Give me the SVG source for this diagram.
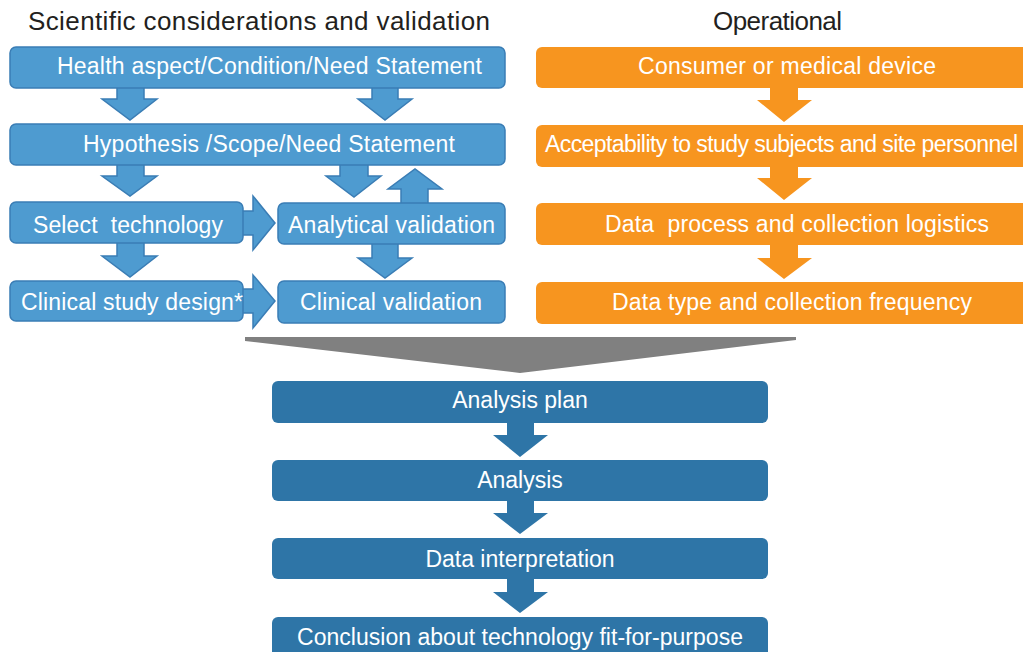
<svg xmlns="http://www.w3.org/2000/svg" width="1023" height="652" viewBox="0 0 1023 652">
<style>
text{font-family:"Liberation Sans",Arial,sans-serif;}
.hdr{font-size:26px;fill:#231f20;}
.t{font-size:23px;fill:#ffffff;}
.lb{fill:#4e9bd0;stroke:#3a7db5;stroke-width:1.5;}
.or{fill:#f7951f;}
.db{fill:#2e75a7;}
.gr{fill:#808080;}
</style>
<rect width="1023" height="652" fill="#ffffff"/>
<text class="hdr" x="28" y="30" textLength="462">Scientific considerations and validation</text>
<text class="hdr" x="713" y="30" textLength="129">Operational</text>

<g id="connectors">
  <polygon class="lb" points="117,86 144,86 144,99 157,99 130,120 102,99 117,99"/>
  <polygon class="lb" points="372,86 398,86 398,99 412,99 385,120 358,99 372,99"/>
  <polygon class="lb" points="117,163 144,163 144,176 157,176 130,196 102,176 117,176"/>
  <polygon class="lb" points="340,163 368,163 368,176 381,176 354,197 326,176 340,176"/>
  <polygon class="lb" points="401,205 428,205 428,189 442,189 415,169 388,189 401,189"/>
  <polygon class="lb" points="240,211 253,211 253,196 275,223 253,250 253,235 240,235"/>
  <polygon class="lb" points="117,241 144,241 144,256 157,256 130,277 102,256 117,256"/>
  <polygon class="lb" points="372,242 398,242 398,258 412,258 385,278 358,258 372,258"/>
  <polygon class="lb" points="240,289 253,289 253,275 275,301 253,328 253,313 240,313"/>
  <polygon class="or" points="770,87 798,87 798,100 812,100 784,122 757,100 770,100"/>
  <polygon class="or" points="770,166 798,166 798,178 812,178 784,200 757,178 770,178"/>
  <polygon class="or" points="770,244 798,244 798,258 812,258 784,279 757,258 770,258"/>
  <polygon class="gr" points="245,337 796,337 796,340 520,373 245,341"/>
  <polygon class="db" points="507,422 534,422 534,435 548,435 520,457 493,435 507,435"/>
  <polygon class="db" points="507,500 534,500 534,513 548,513 520,534 493,513 507,513"/>
  <polygon class="db" points="507,578 534,578 534,592 548,592 520,613 493,592 507,592"/>
</g>

<g id="n-health">
  <rect class="lb" x="10" y="47" width="495" height="41" rx="6"/>
  <text class="t" x="57" y="74" textLength="425">Health aspect/Condition/Need Statement</text>
</g>
<g id="n-hypothesis">
  <rect class="lb" x="10" y="124" width="495" height="41" rx="6"/>
  <text class="t" x="83" y="152" textLength="372">Hypothesis /Scope/Need Statement</text>
</g>
<g id="n-select">
  <rect class="lb" x="10" y="202" width="233" height="41" rx="6"/>
  <text class="t" x="33" y="233" xml:space="preserve" textLength="190">Select  technology</text>
</g>
<g id="n-analytical">
  <rect class="lb" x="278" y="203" width="227" height="41" rx="6"/>
  <text class="t" x="288" y="233" textLength="207">Analytical validation</text>
</g>
<g id="n-clinical-design">
  <rect class="lb" x="10" y="281" width="233" height="40" rx="6"/>
  <text class="t" x="21" y="310" textLength="222">Clinical study design*</text>
</g>
<g id="n-clinical-validation">
  <rect class="lb" x="278" y="281" width="227" height="42" rx="6"/>
  <text class="t" x="300" y="310" textLength="182">Clinical validation</text>
</g>

<g id="n-consumer">
  <rect class="or" x="536" y="47" width="500" height="41" rx="6"/>
  <text class="t" x="638" y="74" textLength="298">Consumer or medical device</text>
</g>
<g id="n-acceptability">
  <rect class="or" x="536" y="125" width="500" height="42" rx="6"/>
  <text class="t" x="545" y="152" textLength="473">Acceptability to study subjects and site personnel</text>
</g>
<g id="n-process">
  <rect class="or" x="536" y="203" width="500" height="42" rx="6"/>
  <text class="t" x="605" y="232" xml:space="preserve" textLength="384">Data  process and collection logistics</text>
</g>
<g id="n-datatype">
  <rect class="or" x="536" y="282" width="500" height="42" rx="6"/>
  <text class="t" x="612" y="310" textLength="360">Data type and collection frequency</text>
</g>

<g id="n-analysis-plan">
  <rect class="db" x="272" y="381" width="496" height="42" rx="6"/>
  <text class="t" x="520" y="408" text-anchor="middle">Analysis plan</text>
</g>
<g id="n-analysis">
  <rect class="db" x="272" y="460" width="496" height="41" rx="6"/>
  <text class="t" x="520" y="488" text-anchor="middle">Analysis</text>
</g>
<g id="n-interpretation">
  <rect class="db" x="272" y="538" width="496" height="41" rx="6"/>
  <text class="t" x="520" y="567" text-anchor="middle">Data interpretation</text>
</g>
<g id="n-conclusion">
  <rect class="db" x="272" y="617" width="496" height="45" rx="6"/>
  <text class="t" x="297" y="645" textLength="446">Conclusion about technology fit-for-purpose</text>
</g>
</svg>
